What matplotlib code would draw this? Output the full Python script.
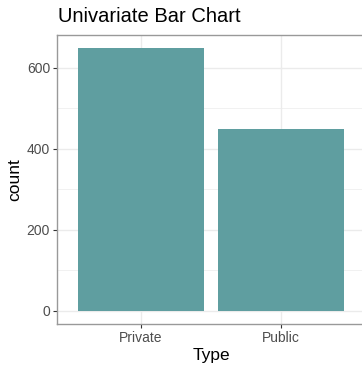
import matplotlib
matplotlib.use("Agg")
import matplotlib.pyplot as plt
from matplotlib.ticker import MultipleLocator

plt.rcParams['font.family'] = ['Liberation Sans', 'DejaVu Sans']

# data
types = ["Private", "Public"]
counts = [648, 448]

fig = plt.figure(figsize=(3.62, 3.65), dpi=100)
# ggplot-like panel; right edge is cut off by the figure border
ax = fig.add_axes([57 / 362, 1 - 324 / 365, 308 / 362, 289 / 365])

x = list(range(len(types)))
ax.bar(x, counts, width=0.9, color="#5F9EA0", zorder=3)

ymax = max(counts)
ax.set_ylim(-0.05 * ymax, 1.05 * ymax)
ax.set_xlim(-0.6, len(types) - 0.4)
ax.yaxis.set_major_locator(MultipleLocator(200))
ax.yaxis.set_minor_locator(MultipleLocator(100))

ax.set_xticks(x)
ax.set_xticklabels(types)

ax.grid(which="major", color="#EBEBEB", linewidth=1.0, zorder=0)
ax.grid(which="minor", axis="y", color="#EBEBEB", linewidth=0.5, zorder=0)
ax.tick_params(which="major", length=3, width=0.8, color="#333333",
               labelcolor="#4D4D4D", labelsize=10, pad=2)
ax.tick_params(which="minor", length=0)
for s in ax.spines.values():
    s.set_color("#999999")
    s.set_linewidth(1.0)

ax.set_xlabel("Type", fontsize=12.5, labelpad=2)
ax.set_ylabel("count", fontsize=12.5, labelpad=3)
fig.text(58 / 362, 1 - 17 / 365, "Univariate Bar Chart", fontsize=14.5,
         ha="left", va="center")

fig.savefig("out.png", dpi=100)
